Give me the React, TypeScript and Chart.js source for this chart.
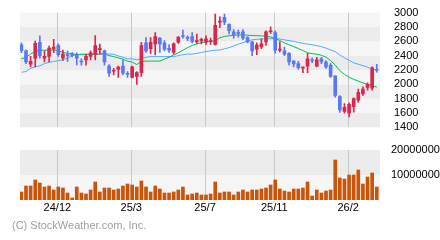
import React, { useEffect, useRef } from "react";
import { Chart, registerables } from "chart.js";

Chart.register(...registerables);

// ---- Data (weekly candles) ----
const OPEN = [
  2550, 2467, 2280, 2364, 2587, 2364, 2391, 2493, 2542, 2369,
  2409, 2418, 2418, 2320, 2342, 2391, 2413, 2484, 2467, 2253,
  2182, 2209, 2253, 2147, 2098, 2111, 2164, 2578, 2498, 2564,
  2644, 2578, 2502, 2444, 2587, 2680, 2653, 2667, 2591, 2604,
  2587, 2596, 2556, 2867, 2933, 2836, 2733, 2724, 2733, 2653,
  2591, 2489, 2520, 2591, 2733, 2720, 2476, 2467, 2431, 2324,
  2289, 2227, 2253, 2342, 2253, 2356, 2311, 2267, 2120, 1831,
  1622, 1600, 1689, 1778, 1867, 1956, 1947, 2210,
];
const HIGH = [
  2580, 2480, 2391, 2604, 2676, 2467, 2533, 2627, 2564, 2476,
  2467, 2444, 2440, 2356, 2418, 2467, 2680, 2560, 2476, 2276,
  2222, 2253, 2342, 2178, 2253, 2178, 2587, 2653, 2653, 2720,
  2653, 2609, 2556, 2578, 2667, 2756, 2676, 2720, 2702, 2644,
  2676, 2644, 2978, 2942, 2978, 2844, 2764, 2756, 2764, 2667,
  2600, 2578, 2636, 2747, 2800, 2747, 2591, 2520, 2444, 2333,
  2320, 2244, 2431, 2369, 2378, 2378, 2333, 2289, 2120, 1844,
  1733, 1742, 1813, 1933, 1964, 2022, 2244, 2280,
];
const LOW = [
  2440, 2289, 2244, 2244, 2364, 2311, 2311, 2440, 2391, 2333,
  2320, 2382, 2271, 2267, 2267, 2342, 2342, 2422, 2267, 2111,
  2133, 2098, 2133, 2098, 2089, 2000, 2111, 2444, 2431, 2409,
  2444, 2467, 2444, 2422, 2569, 2644, 2609, 2578, 2569, 2564,
  2556, 2556, 2547, 2791, 2831, 2702, 2644, 2658, 2622, 2578,
  2400, 2413, 2498, 2547, 2711, 2436, 2453, 2400, 2267, 2244,
  2209, 2164, 2164, 2302, 2244, 2289, 2222, 2098, 1822, 1609,
  1600, 1547, 1613, 1747, 1844, 1920, 1920, 2170,
];
const CLOSE = [
  2470, 2311, 2320, 2573, 2400, 2391, 2507, 2520, 2413, 2422,
  2400, 2404, 2364, 2311, 2391, 2440, 2542, 2498, 2311, 2156,
  2196, 2240, 2156, 2138, 2244, 2164, 2542, 2467, 2587, 2667,
  2564, 2489, 2476, 2564, 2658, 2667, 2640, 2600, 2609, 2627,
  2636, 2609, 2822, 2880, 2867, 2747, 2689, 2711, 2644, 2591,
  2467, 2547, 2564, 2733, 2747, 2476, 2489, 2422, 2311, 2284,
  2231, 2240, 2356, 2329, 2342, 2311, 2244, 2111, 1844, 1644,
  1680, 1720, 1800, 1889, 1933, 2000, 2231, 2196,
];
const MA_SHORT = [
  2356, 2378, 2422, 2458, 2476, 2476, 2478, 2478, 2470, 2444,
  2431, 2431, 2413, 2413, 2413, 2413, 2422, 2422, 2422, 2400,
  2387, 2369, 2351, 2324, 2311, 2276, 2320, 2324, 2324, 2324,
  2324, 2351, 2378, 2409, 2440, 2476, 2511, 2542, 2564, 2582,
  2591, 2600, 2605, 2650, 2668, 2676, 2684, 2689, 2689, 2685,
  2680, 2678, 2676, 2670, 2660, 2640, 2610, 2578, 2550, 2525,
  2500, 2470, 2440, 2428, 2420, 2405, 2380, 2330, 2270, 2190,
  2140, 2100, 2070, 2045, 2020, 2000, 1985, 1960,
];
const MA_LONG = [
  2169, 2178, 2222, 2244, 2258, 2289, 2307, 2320, 2329, 2342,
  2369, 2400, 2413, 2422, 2422, 2422, 2422, 2422, 2431, 2422,
  2418, 2396, 2378, 2356, 2356, 2342, 2356, 2378, 2387, 2387,
  2387, 2387, 2387, 2387, 2400, 2413, 2422, 2422, 2431, 2444,
  2458, 2467, 2476, 2480, 2495, 2511, 2535, 2560, 2580, 2605,
  2620, 2628, 2632, 2635, 2636, 2636, 2632, 2620, 2610, 2598,
  2585, 2572, 2560, 2552, 2540, 2525, 2505, 2480, 2455, 2410,
  2370, 2335, 2300, 2280, 2260, 2240, 2215, 2195,
];
const VOLUME = [
  3200000, 5600000, 5600000, 8000000, 6800000, 5200000, 5600000, 4000000, 5200000, 4800000,
  2800000, 800000, 5200000, 2800000, 2400000, 4000000, 7200000, 3200000, 4800000, 4800000,
  4000000, 4400000, 5600000, 6400000, 6000000, 5200000, 7600000, 5200000, 3200000, 5600000,
  4400000, 2800000, 2800000, 3200000, 4000000, 5200000, 2000000, 2400000, 2800000, 2000000,
  2000000, 2400000, 7200000, 2800000, 3200000, 3200000, 2000000, 3200000, 4000000, 3200000,
  4000000, 4000000, 4400000, 4800000, 6000000, 8000000, 4400000, 3600000, 3200000, 4400000,
  4400000, 4800000, 7200000, 1600000, 4000000, 2800000, 3600000, 4000000, 16000000, 8800000,
  8400000, 10000000, 10000000, 12000000, 6400000, 9200000, 10800000, 5200000,
];
const DATE_TICK_POS = [7.8, 23.8, 39.8, 54.8, 70.8];
const DATE_TICK_LABELS = ["24/12", "25/3", "25/7", "25/11", "26/2"];
const PRICE_TICKS = [1400, 1600, 1800, 2000, 2200, 2400, 2600, 2800, 3000];
const VOLUME_TICKS = [10000000, 20000000];

const UP = "#d8274c";
const DOWN = "#5a78f5";
const FONT = { family: "'Liberation Sans', Arial, sans-serif", size: 11 };

const bandPlugin = (edges: number[], colors: string[]) => ({
  id: "bands",
  beforeDraw(chart: any) {
    const { ctx, chartArea } = chart;
    const y = chart.scales.y;
    ctx.save();
    for (let k = 0; k < edges.length - 1; k++) {
      const y0 = y.getPixelForValue(edges[k]);
      const y1 = y.getPixelForValue(edges[k + 1]);
      ctx.fillStyle = colors[k % colors.length];
      ctx.fillRect(chartArea.left, y1, chartArea.right - chartArea.left, y0 - y1);
    }
    ctx.restore();
  },
});

const xAxis = (showLabels: boolean) => ({
  type: "linear" as const,
  min: -0.3,
  max: 77.7,
  offset: false,
  grid: { color: "#c8c8c8", drawTicks: false, offset: false, lineWidth: 1 },
  border: { display: false },
  ticks: {
    display: showLabels,
    autoSkip: false,
    maxRotation: 0,
    padding: 1,
    color: "#000",
    font: FONT,
    callback: (_v: any, i: number) => DATE_TICK_LABELS[i],
  },
  afterBuildTicks: (s: any) => {
    s.ticks = DATE_TICK_POS.map((v) => ({ value: v }));
  },
  afterFit: (s: any) => {
    s.height = showLabels ? 40 : 0;
  },
});

const yAxis = (min: number, max: number, ticks: number[], padding: number) => ({
  position: "right",
  min,
  max,
  grid: { display: false },
  border: { display: false },
  ticks: {
    padding,
    autoSkip: false,
    color: "#000",
    font: FONT,
    callback: (v: any) => String(v),
  },
  afterBuildTicks: (s: any) => {
    s.ticks = ticks.map((v) => ({ value: v }));
  },
  afterFit: (s: any) => {
    s.width = 60;
  },
});

export default function App() {
  const priceRef = useRef<HTMLCanvasElement>(null);
  const volRef = useRef<HTMLCanvasElement>(null);

  useEffect(() => {
    const idx = OPEN.map((_, i) => i);
    const colors = idx.map((i) => (CLOSE[i] >= OPEN[i] ? UP : DOWN));
    const price = new Chart(priceRef.current!, {
      type: "bar",
      data: {
        datasets: [
          {
            type: "bar",
            data: idx.map((i) => ({ x: i, y: [LOW[i], HIGH[i]] })) as any,
            backgroundColor: colors,
            barThickness: 1,
            grouped: false,
            borderWidth: 0,
            order: 2,
          },
          {
            type: "bar",
            data: idx.map((i) => ({
              x: i,
              y: [Math.min(OPEN[i], CLOSE[i]), Math.max(OPEN[i], CLOSE[i])],
            })) as any,
            backgroundColor: colors,
            barThickness: 3,
            grouped: false,
            borderWidth: 0,
            minBarLength: 1,
            order: 1,
          },
          {
            type: "line",
            data: MA_SHORT.map((v, i) => ({ x: i, y: v })) as any,
            borderColor: "#00c050",
            borderWidth: 1,
            pointRadius: 0,
            tension: 0,
            order: 3,
          },
          {
            type: "line",
            data: MA_LONG.map((v, i) => ({ x: i, y: v })) as any,
            borderColor: "#55aaff",
            borderWidth: 1,
            pointRadius: 0,
            tension: 0,
            order: 4,
          },
        ],
      },
      options: {
        animation: false,
        responsive: false,
        layout: { padding: { left: 20, top: 10, bottom: 10, right: 0 } },
        plugins: { legend: { display: false }, tooltip: { enabled: false } },
        scales: {
          x: xAxis(false) as any,
          y: yAxis(1400, 3000, PRICE_TICKS, 6) as any,
        },
      },
      plugins: [bandPlugin(PRICE_TICKS, ["#ebebeb", "#f5f5f5"])],
    });

    const vol = new Chart(volRef.current!, {
      type: "bar",
      data: {
        datasets: [
          {
            data: VOLUME.map((v, i) => ({ x: i, y: v })) as any,
            backgroundColor: "#c8550a",
            barThickness: 3,
            borderWidth: 0,
          },
        ],
      },
      options: {
        animation: false,
        responsive: false,
        layout: { padding: { left: 20, top: 10, bottom: 0, right: 0 } },
        plugins: { legend: { display: false }, tooltip: { enabled: false } },
        scales: {
          x: xAxis(true) as any,
          y: yAxis(0, 20000000, VOLUME_TICKS, 3) as any,
        },
      },
      plugins: [bandPlugin([0, 10000000, 20000000], ["#f5f5f5", "#ebebeb"])],
    });

    return () => {
      price.destroy();
      vol.destroy();
    };
  }, []);

  return (
    <div
      style={{
        position: "fixed",
        left: 0,
        top: 0,
        width: 440,
        height: 240,
        background: "#fff",
        overflow: "hidden",
      }}
    >
      <canvas
        ref={priceRef}
        width={440}
        height={140}
        style={{ position: "absolute", left: 0, top: 0, width: 440, height: 140 }}
      />
      <canvas
        ref={volRef}
        width={440}
        height={100}
        style={{ position: "absolute", left: 0, top: 140, width: 440, height: 100 }}
      />
      <div
        style={{
          position: "absolute",
          left: 12,
          top: 219,
          fontFamily: "'Liberation Sans', Arial, sans-serif",
          fontSize: 11,
          lineHeight: "13px",
          color: "#a0a0a0",
          whiteSpace: "nowrap",
        }}
      >
        (C) StockWeather.com, Inc.
      </div>
    </div>
  );
}
